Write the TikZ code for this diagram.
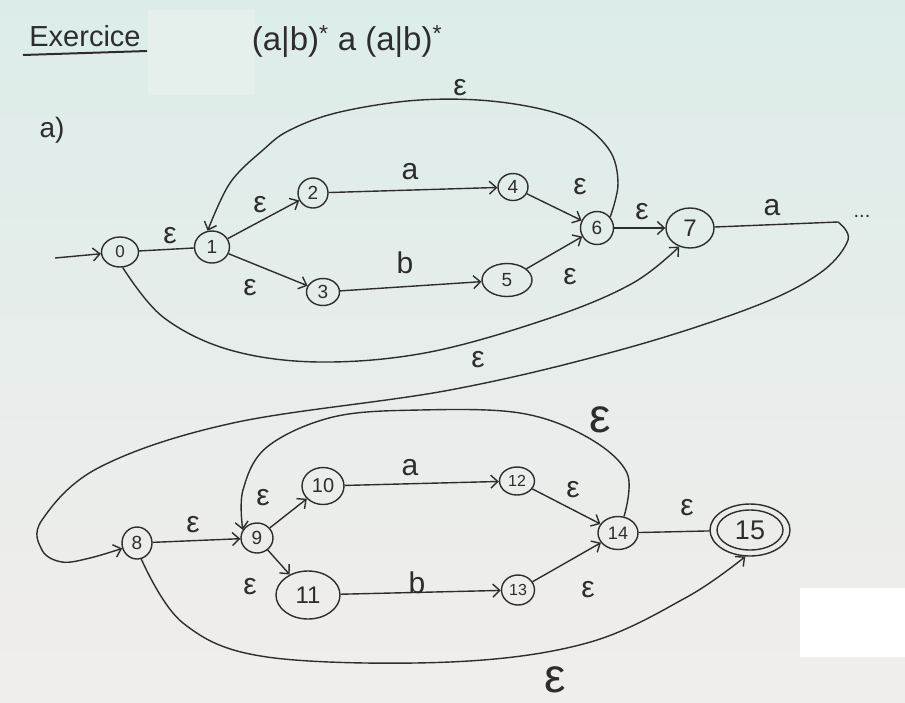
\documentclass[tikz,border=0pt]{standalone}
\usepackage{fontspec}
\setmainfont{Liberation Sans}
\usetikzlibrary{arrows.meta,shapes.geometric}
\definecolor{ink}{RGB}{45,45,45}
\definecolor{paperA}{RGB}{220,237,233}
\definecolor{paperB}{RGB}{241,237,236}
\definecolor{patch}{RGB}{229,239,235}
\begin{document}
\begin{tikzpicture}[x=1pt,y=-1pt,
  st/.style={ellipse,draw=ink,line width=1.4pt,inner sep=0pt,text=ink,font=\fontsize{19}{19}\selectfont},
  tr/.style={draw=ink,line width=1.4pt,-{Straight Barb[length=7pt,width=13pt]}},
  ln/.style={draw=ink,line width=1.4pt},
  lab/.style={text=ink,inner sep=0pt,font=\fontsize{30}{30}\selectfont},
  biglab/.style={text=ink,inner sep=0pt,font=\fontsize{48}{48}\selectfont},
]
\useasboundingbox (0,0) rectangle (905,702);
\shade[top color=paperA,bottom color=paperB] (0,0) rectangle (905,702);
\fill[patch] (148,10) rectangle (255,95);
\fill[white] (800,588) rectangle (905,657);

% header
\node[text=ink,font=\fontsize{29}{29}\selectfont,inner sep=0pt] (ex) at (85,36) {Exercice};
\draw[ink,line width=2pt] (23,55) -- (147,51);
\node[text=ink,font=\fontsize{33}{33}\selectfont,inner sep=0pt] (re) at (347,42) {(a|b)\textsuperscript{*} a (a|b)\textsuperscript{*}};
\node[text=ink,font=\fontsize{28}{28}\selectfont,inner sep=0pt] (pa) at (52,130) {a)};

% states, part 1
\node[st,minimum width=37pt,minimum height=30pt,font=\fontsize{17}{17}\selectfont] (n0) at (120,252) {0};
\node[st,minimum width=35pt,minimum height=32pt] (n1) at (212,247) {1};
\node[st,minimum width=30pt,minimum height=30pt] (n2) at (313,193) {2};
\node[st,minimum width=33pt,minimum height=27pt] (n3) at (323,292) {3};
\node[st,minimum width=30pt,minimum height=27pt] (n4) at (513,187) {4};
\node[st,minimum width=50pt,minimum height=33pt] (n5) at (507,280) {5};
\node[st,minimum width=33pt,minimum height=33pt] (n6) at (597,228) {6};
\node[st,minimum width=48pt,minimum height=40pt,font=\fontsize{24}{24}\selectfont] (n7) at (690,228) {7};

% states, part 2
\node[st,minimum width=30pt,minimum height=32pt] (n8) at (137,543) {8};
\node[st,minimum width=32pt,minimum height=30pt] (n9) at (257,538) {9};
\node[st,minimum width=42pt,minimum height=37pt,font=\fontsize{20}{20}\selectfont] (n10) at (323,486) {10};
\node[st,minimum width=64pt,minimum height=48pt,font=\fontsize{24}{24}\selectfont] (n11) at (308,595) {11};
\node[st,minimum width=35pt,minimum height=28pt,font=\fontsize{16}{16}\selectfont] (n12) at (517,481) {12};
\node[st,minimum width=33pt,minimum height=30pt,font=\fontsize{16}{16}\selectfont] (n13) at (518,590) {13};
\node[st,minimum width=40pt,minimum height=33pt,font=\fontsize{18}{18}\selectfont] (n14) at (618,533) {14};
\node[st,minimum width=80pt,minimum height=52pt,font=\fontsize{27}{27}\selectfont] (n15) at (750,530) {15};
\draw[ink,line width=1.4pt] (n15.center) ellipse [x radius=33pt, y radius=20pt];

% start arrow
\coordinate (s0) at (55,258);
\draw[tr] (s0) -- (n0);

% transitions part 1
\draw[ln] (n0) -- (n1);
\draw[tr] (n1) -- (n2);
\draw[tr] (n1) -- (n3);
\draw[tr] (n2) -- (n4);
\draw[tr] (n3) -- (n5);
\draw[tr] (n4) -- (n6);
\draw[tr] (n5) -- (n6);
\draw[tr] (n6) -- (n7);
\draw[tr] plot[smooth,tension=0.6] coordinates {(n6.40) (618,183) (608,148) (570,118) (500,102) (420,100) (340,112) (290,130) (263,150) (230,183) (n1.105)};
\draw[tr] plot[smooth,tension=0.6] coordinates {(n0.-80) (163,317) (230,350) (320,362) (430,352) (553,317) (633,283) (n7.-120)};
\coordinate (c7) at (838,222);
\draw[ln] (n7) -- (c7);
\node[text=ink,font=\fontsize{20}{20}\selectfont,inner sep=0pt] (dots) at (862,216) {...};
\draw[tr] plot[smooth,tension=0.6] coordinates {(c7) (848,240) (820,273) (753,307) (620,350) (450,390) (233,423) (100,467) (42,520) (42,550) (62,562) (90,558) (n8.200)};

% transitions part 2
\draw[tr] (n8) -- (n9);
\draw[tr] (n9) -- (n10);
\draw[tr] (n9) -- (n11);
\draw[tr] (n10) -- (n12);
\draw[tr] (n11) -- (n13);
\draw[tr] (n12) -- (n14);
\draw[tr] (n13) -- (n14);
\draw[ln] (n14) -- (n15);
\draw[tr] plot[smooth,tension=0.6] coordinates {(n14.70) (627,473) (587,437) (520,413) (420,410) (333,417) (267,447) (243,490) (n9.150)};
\draw[tr] plot[smooth,tension=0.6] coordinates {(n8.-75) (183,623) (267,657) (450,662) (587,643) (687,597) (n15.-100)};

% labels part 1
\node[lab] (l01) at (170,236) {ε};
\node[lab] (l12) at (260,205) {ε};
\node[lab] (l13) at (250,288) {ε};
\node[lab] (l24) at (410,172) {a};
\node[lab] (l35) at (405,263) {b};
\node[lab] (l46) at (580,187) {ε};
\node[lab] (l56) at (570,277) {ε};
\node[lab] (l67) at (642,212) {ε};
\node[lab] (l7a) at (772,208) {a};
\node[lab] (l61) at (460,88) {ε};
\node[lab] (l07) at (478,360) {ε};

% labels part 2
\node[lab] (l89) at (193,525) {ε};
\node[lab] (l910) at (263,498) {ε};
\node[lab] (l911) at (250,587) {ε};
\node[lab] (l1012) at (410,468) {a};
\node[lab] (l1113) at (417,583) {b};
\node[lab] (l1214) at (573,490) {ε};
\node[lab] (l1314) at (588,590) {ε};
\node[lab] (l1415) at (687,508) {ε};
\node[biglab] (l149) at (600,420) {ε};
\node[biglab] (l815) at (555,680) {ε};
\end{tikzpicture}
\end{document}
